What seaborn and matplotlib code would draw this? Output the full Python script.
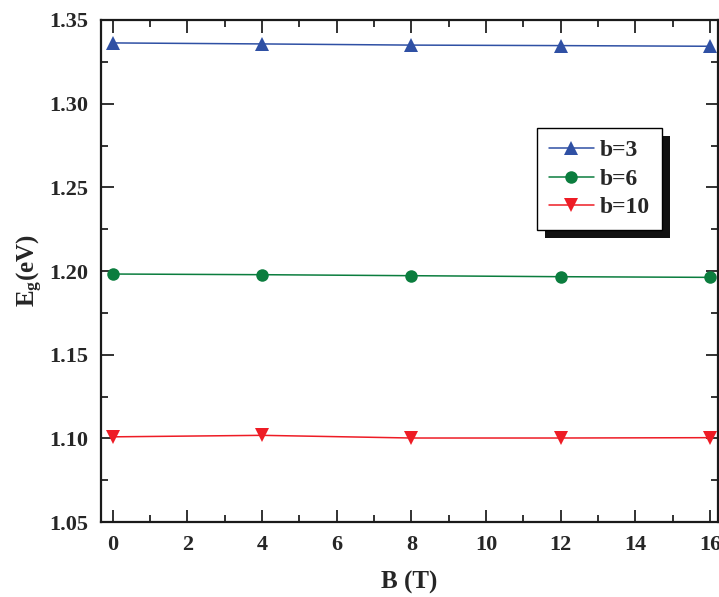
import numpy as np
import pandas as pd
import matplotlib
matplotlib.use("Agg")
import matplotlib.pyplot as plt
import seaborn as sns
from matplotlib.ticker import MultipleLocator, FormatStrFormatter
from matplotlib.patches import Rectangle

# Data
B_values = [0, 4, 8, 12, 16]
eg_b3 = [1.3363, 1.3357, 1.3350, 1.3347, 1.3343]
eg_b6 = [1.1982, 1.1978, 1.1972, 1.1966, 1.1962]
eg_b10 = [1.1009, 1.1018, 1.1002, 1.1002, 1.1004]
series_labels = ["b=3", "b=6", "b=10"]
x_ticks = [0, 2, 4, 6, 8, 10, 12, 14, 16]
y_ticks = [1.05, 1.10, 1.15, 1.20, 1.25, 1.30, 1.35]

df = pd.DataFrame({
    "B": B_values * 3,
    "Eg": eg_b3 + eg_b6 + eg_b10,
    "series": [series_labels[0]] * 5 + [series_labels[1]] * 5 + [series_labels[2]] * 5,
})

sns.set_style("ticks")
plt.rcParams["font.family"] = ["Liberation Serif", "DejaVu Serif"]
plt.rcParams["font.weight"] = "bold"
plt.rcParams["mathtext.fontset"] = "custom"
plt.rcParams["mathtext.rm"] = "Liberation Serif:bold"
plt.rcParams["mathtext.it"] = "Liberation Serif:bold"
plt.rcParams["mathtext.bf"] = "Liberation Serif:bold"

fig = plt.figure(figsize=(7.19, 5.97), dpi=100)
ax = fig.add_axes([0.1405, 0.1256, 0.8581, 0.8409])

palette = {"b=3": "#2f50a4", "b=6": "#0b7d3e", "b=10": "#ee1c25"}
markers = {"b=3": "^", "b=6": "o", "b=10": "v"}
sns.lineplot(data=df, x="B", y="Eg", hue="series", style="series",
             palette=palette, markers=markers, dashes=False,
             markersize=10, markeredgewidth=0, linewidth=1.1, ax=ax, legend=False)
for ln in ax.lines:
    if ln.get_marker() == "o":
        ln.set_markersize(9)

ax.set_xlim(-0.31, 16.21)
ax.set_ylim(1.05, 1.35)
ax.set_xticks(x_ticks)
ax.set_yticks(y_ticks)
ax.xaxis.set_minor_locator(MultipleLocator(1))
ax.yaxis.set_minor_locator(MultipleLocator(0.025))
ax.yaxis.set_major_formatter(FormatStrFormatter("%.2f"))
ax.tick_params(which="both", direction="in", top=True, right=True, width=1.3,
               labelsize=16, color="#222222")
ax.tick_params(which="major", length=9, pad=9)
ax.tick_params(which="minor", length=5)
for lab in ax.get_xticklabels() + ax.get_yticklabels():
    lab.set_fontweight("bold")
for s in ax.spines.values():
    s.set_linewidth(1.6)
    s.set_color("#1a1a1a")

ax.set_xlabel("B (T)", fontsize=18, fontweight="bold", labelpad=12)
ax.set_ylabel(r"E$_\mathregular{g}$(eV)", fontsize=18, fontweight="bold", labelpad=3)

handles = ax.lines[:3]
leg_kw = dict(frameon=True, fancybox=False, edgecolor="black", framealpha=1,
              prop={"family": "Liberation Serif", "weight": "bold", "size": 17},
              handlelength=1.9, handletextpad=0.25, labelspacing=0.3,
              borderpad=0.5, borderaxespad=0)
leg = ax.legend(handles, series_labels, loc="upper left", bbox_to_anchor=(0.707, 0.785), **leg_kw)
leg.get_frame().set_linewidth(1.0)

fig.canvas.draw()
bb = leg.get_window_extent()
inv = fig.transFigure.inverted()
(x0, y0) = inv.transform((bb.x0 + 8, bb.y0 - 8))
(x1, y1) = inv.transform((bb.x1 + 8, bb.y1 - 8))
fig.patches.append(Rectangle((x0, y0), x1 - x0, y1 - y0, transform=fig.transFigure,
                             facecolor="#111111", edgecolor="none", zorder=5))
anchor = inv.transform((bb.x0, bb.y1))
leg.remove()
leg2 = fig.legend(handles, series_labels, loc="upper left",
                  bbox_to_anchor=(anchor[0], anchor[1]), **leg_kw)
leg2.get_frame().set_linewidth(1.0)
leg2.set_zorder(10)

fig.savefig("out.png", dpi=100)
